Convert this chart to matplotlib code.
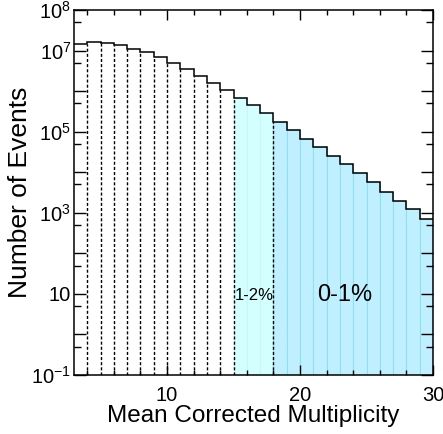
import numpy as np
import matplotlib
matplotlib.use("Agg")
import matplotlib.pyplot as plt
from matplotlib.ticker import FixedLocator, FuncFormatter

plt.rcParams["font.family"] = ["Liberation Sans", "DejaVu Sans"]
plt.rcParams["mathtext.fontset"] = "custom"
plt.rcParams["mathtext.rm"] = "Liberation Sans"
plt.rcParams["mathtext.it"] = "Liberation Sans:italic"
plt.rcParams["mathtext.bf"] = "Liberation Sans:bold"

# Histogram of mean corrected multiplicity, unit-width bins from 3 to 30
bin_edges = list(range(3, 31))
event_counts = [
    1.45e7, 1.60e7, 1.51e7, 1.37e7, 1.11e7, 9.06e6, 6.82e6, 4.85e6,
    3.45e6, 2.40e6, 1.58e6, 1.05e6, 6.88e5, 4.50e5, 2.84e5, 1.76e5,
    1.10e5, 6.71e4, 4.19e4, 2.55e4, 1.57e4, 9.40e3, 5.64e3, 3.31e3,
    1.99e3, 1.22e3, 7.03e2,
]

# Centrality classes (multiplicity ranges)
class_labels = ["1-2%", "0-1%"]
class_ranges = [(15, 18), (18, 30)]
class_fill = ["#D4FFFF", "#C0F0FF"]
class_edge = ["#C4F8FB", "#8EE0F3"]

# Bin boundaries marked with dotted lines
dotted_edges = list(range(4, 16)) + [18]

y_min, y_max = 1e-1, 1e8
x_min, x_max = 3, 30

fig = plt.figure(figsize=(4.43, 4.34), dpi=100)
ax = fig.add_axes([74 / 443, 1 - 375 / 434, (433 - 74) / 443, (375 - 10) / 434])
ax.set_yscale("log")
ax.set_xlim(x_min, x_max)
ax.set_ylim(y_min, y_max)

edges = np.array(bin_edges, dtype=float)
counts = np.array(event_counts)
lefts = edges[:-1]

# Shaded centrality classes
for (lo, hi), fc, ec in zip(class_ranges, class_fill, class_edge):
    sel = (lefts >= lo) & (lefts < hi)
    ax.bar(lefts[sel], counts[sel] - y_min, bottom=y_min, width=1.0,
           align="edge", color=fc, edgecolor=ec, linewidth=0.8, zorder=1)

# Dotted bin boundaries
for e in dotted_edges:
    i = bin_edges.index(e)
    top = min(counts[i - 1], counts[i])
    ax.vlines(e, y_min, top, colors="black", linewidth=1.0,
              linestyles=(0, (2.2, 1.5)), zorder=2)

# Histogram outline
ax.stairs(counts, edges, baseline=None, color="black", linewidth=1.1, zorder=3)

# Class labels
ax.text(16.55, 10 ** 0.97, class_labels[0], fontsize=12, ha="center", va="center", zorder=4)
ax.text(23.35, 10 ** 0.97, class_labels[1], fontsize=17, ha="center", va="center", zorder=4)

# Axes styling
for s in ax.spines.values():
    s.set_linewidth(1.1)

ax.xaxis.set_major_locator(FixedLocator([10, 20, 30]))
ax.xaxis.set_minor_locator(FixedLocator([4, 6, 8, 12, 14, 16, 18, 22, 24, 26, 28]))

decades = [10.0 ** k for k in range(-1, 9)]
minors = [5 * 10.0 ** k for k in range(-1, 8)]
ax.yaxis.set_major_locator(FixedLocator(decades))
ax.yaxis.set_minor_locator(FixedLocator(minors))

labelled = {-1: r"$10^{-1}$", 1: "10", 3: r"$10^{3}$", 5: r"$10^{5}$",
            7: r"$10^{7}$", 8: r"$10^{8}$"}

def y_fmt(v, pos):
    k = int(round(np.log10(v)))
    return labelled.get(k, "")

ax.yaxis.set_major_formatter(FuncFormatter(y_fmt))
ax.yaxis.set_minor_formatter(FuncFormatter(lambda v, p: ""))

ax.tick_params(which="both", direction="in", top=True, right=True, width=1.0,
               labelsize=14.5)
ax.tick_params(axis="x", which="major", length=7.2, pad=8)
ax.tick_params(axis="x", which="minor", length=3.6)
ax.tick_params(axis="y", which="major", length=8.6, pad=2)
ax.tick_params(axis="y", which="minor", length=5)

ax.set_xlabel("Mean Corrected Multiplicity", fontsize=17.5, labelpad=0)
ax.set_ylabel("Number of Events", fontsize=19, labelpad=-0.5)

fig.savefig("out.png", dpi=100)
